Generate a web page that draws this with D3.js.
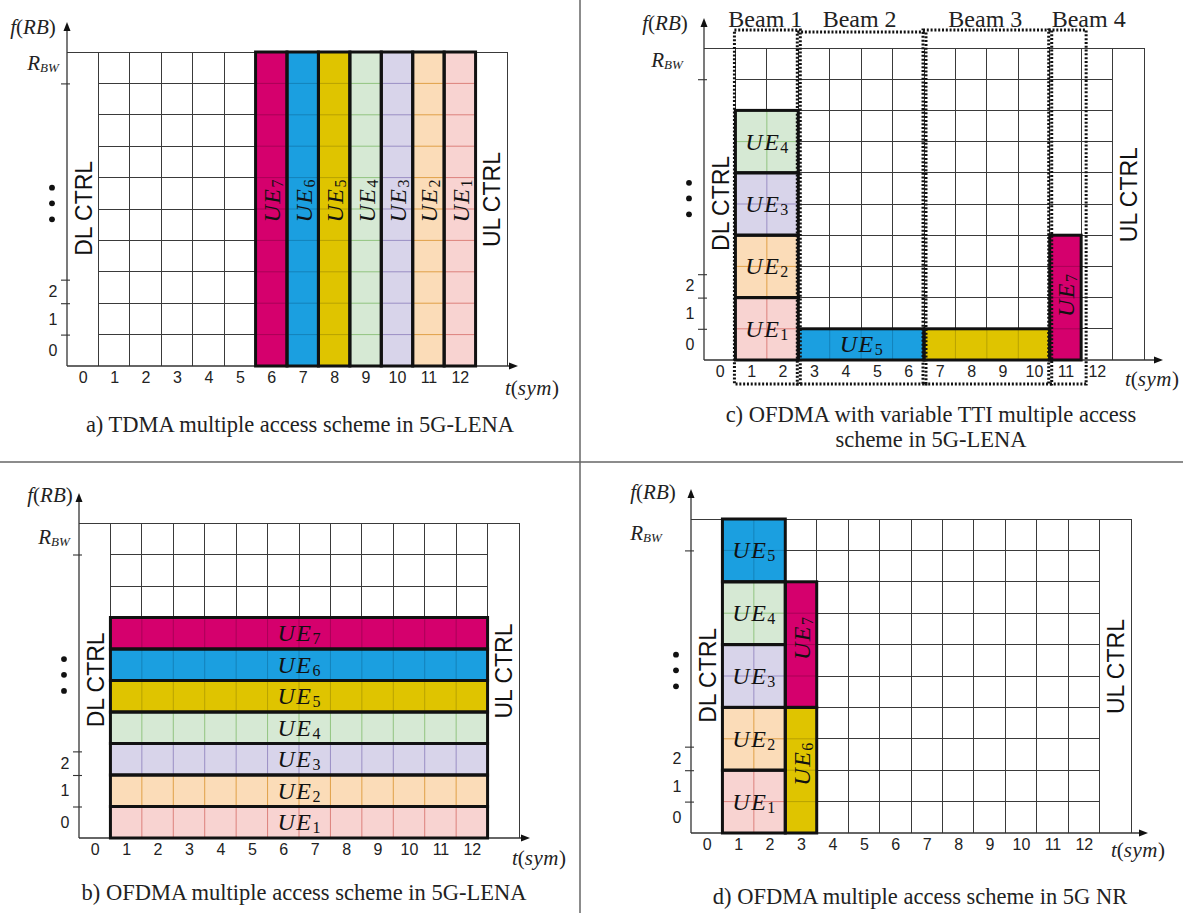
<!DOCTYPE html>
<html><head><meta charset="utf-8">
<script src="https://cdn.jsdelivr.net/npm/d3@7"></script>
<style>body{margin:0;background:#fff}svg{display:block}</style>
</head><body>
<svg id="chart" width="1183" height="913"></svg>
<script>
// ---------------- data ----------------
const symbolLabels = ["0","1","2","3","4","5","6","7","8","9","10","11","12"];
const rbLabels = ["0","1","2"];
const rbLabelPos = [0.5, 1.5, 2.38];
const rbTickPos = [1, 2, 2.75, 9];
const dotPos = [4.67, 5.18, 5.68];
const nSym = 14, nRB = 10;

// a) TDMA
const tdmaUE      = [7, 6, 5, 4, 3, 2, 1];
const tdmaSym0    = [6, 7, 8, 9, 10, 11, 12];
const tdmaSym1    = [7, 8, 9, 10, 11, 12, 13];
const tdmaRB0     = [0, 0, 0, 0, 0, 0, 0];
const tdmaRB1     = [10, 10, 10, 10, 10, 10, 10];
const tdmaColor   = ["magenta","blue","yellow","green","lavender","peach","pink"];

// b) OFDMA
const ofdmaUE     = [1, 2, 3, 4, 5, 6, 7];
const ofdmaSym0   = [1, 1, 1, 1, 1, 1, 1];
const ofdmaSym1   = [13, 13, 13, 13, 13, 13, 13];
const ofdmaRB0    = [0, 1, 2, 3, 4, 5, 6];
const ofdmaRB1    = [1, 2, 3, 4, 5, 6, 7];
const ofdmaColor  = ["pink","peach","lavender","green","yellow","blue","magenta"];

// c) OFDMA variable TTI
const vttiUE      = [1, 2, 3, 4, 5, null, 7];
const vttiSym0    = [1, 1, 1, 1, 3, 7, 11];
const vttiSym1    = [3, 3, 3, 3, 7, 11, 12];
const vttiRB0     = [0, 2, 4, 6, 0, 0, 0];
const vttiRB1     = [2, 4, 6, 8, 1, 1, 4];
const vttiColor   = ["pink","peach","lavender","green","blue","yellow","magenta"];
const beamNames   = ["Beam 1","Beam 2","Beam 3","Beam 4"];
const beamSym0    = [1, 3, 7, 11];
const beamSym1    = [3, 7, 11, 12];

// d) 5G NR
const nrUE        = [1, 2, 3, 4, 5, 6, 7];
const nrSym0      = [1, 1, 1, 1, 1, 3, 3];
const nrSym1      = [3, 3, 3, 3, 3, 4, 4];
const nrRB0       = [0, 2, 4, 6, 8, 0, 4];
const nrRB1       = [2, 4, 6, 8, 10, 4, 8];
const nrColor     = ["pink","peach","lavender","green","blue","yellow","magenta"];

const captionA = ["a) TDMA multiple access scheme in 5G-LENA"];
const captionB = ["b) OFDMA multiple access scheme in 5G-LENA"];
const captionC = ["c) OFDMA with variable TTI multiple access", "scheme in 5G-LENA"];
const captionD = ["d) OFDMA multiple access scheme in 5G NR"];

// ---------------- styles ----------------
const palette = {
  pink:     {fill:"#f8d3d1", line:"#dc817c"},
  peach:    {fill:"#fbdcb8", line:"#e0a048"},
  lavender: {fill:"#d8d4ea", line:"#9a8ec4"},
  green:    {fill:"#d6e9d4", line:"#92c480"},
  yellow:   {fill:"#dfc400", line:"#b8a200"},
  blue:     {fill:"#1b9fe0", line:"#1482ba"},
  magenta:  {fill:"#d5006d", line:"#a90057"}
};
const SERIF = "'Liberation Serif','Times New Roman',serif";
const SANS  = "'Liberation Sans',Arial,sans-serif";

const svg = d3.select("#chart");

// dividers
svg.append("line").attr("x1",0).attr("x2",1183).attr("y1",462).attr("y2",462)
  .attr("stroke","#666").attr("stroke-width",1.5);
svg.append("line").attr("x1",580).attr("x2",580).attr("y1",0).attr("y2",913)
  .attr("stroke","#666").attr("stroke-width",1.5);

function blocksFrom(ue, s0, s1, r0, r1, col){
  return ue.map((u,i)=>({ue:u, s0:s0[i], s1:s1[i], r0:r0[i], r1:r1[i], color:col[i]}));
}

function drawPanel(L, blocks, caption){
  const g = svg.append("g");
  const x = d3.scaleLinear().domain([0, nSym]).range([L.ox, L.ox + 440]);
  const y = d3.scaleLinear().domain([0, nRB]).range([L.oy, L.top]);
  const gridC = "#3a3a3a";

  // grid
  const grid = g.append("g").attr("stroke", gridC).attr("stroke-width", 1).attr("shape-rendering","crispEdges");
  d3.range(1, 14).forEach(c => grid.append("line")
      .attr("x1", x(c)).attr("x2", x(c)).attr("y1", y(0)).attr("y2", y(nRB)));
  d3.range(1, nRB).forEach(r => grid.append("line")
      .attr("x1", x(1)).attr("x2", x(13)).attr("y1", y(r)).attr("y2", y(r)));
  grid.append("line").attr("x1", x(0)).attr("x2", x(nSym)).attr("y1", y(nRB)).attr("y2", y(nRB));
  grid.append("line").attr("x1", x(nSym)).attr("x2", x(nSym)).attr("y1", y(0)).attr("y2", y(nRB));

  // axes lines with arrows
  const axC = "#333";
  g.append("line").attr("x1", L.ox).attr("x2", L.ox).attr("y1", L.oy).attr("y2", L.top - 27)
    .attr("stroke", axC).attr("stroke-width", 1.3);
  g.append("path").attr("d", `M${L.ox},${L.top-30} l-3.5,9 l7,0 z`).attr("fill", "#111");
  g.append("line").attr("x1", L.ox).attr("x2", L.arrowX - 3).attr("y1", L.oy).attr("y2", L.oy)
    .attr("stroke", axC).attr("stroke-width", 1.3);
  g.append("path").attr("d", `M${L.arrowX},${L.oy} l-9,-3.5 l0,7 z`).attr("fill", "#111");

  // x tick labels via axis
  const xAx = d3.axisBottom(x).tickValues(symbolLabels.map((d,i)=>i+0.5))
    .tickFormat((d,i)=>symbolLabels[i]).tickSize(0).tickPadding(6);
  const xg = g.append("g").attr("transform", `translate(0,${L.oy})`).call(xAx);
  xg.select(".domain").remove();
  xg.selectAll("text").attr("font-family", SANS).attr("font-size", 16).attr("fill", "#222");

  // y tick marks via axis
  const yTick = d3.axisLeft(y).tickValues(rbTickPos).tickFormat("").tickSizeInner(9).tickSizeOuter(0);
  const yg = g.append("g").attr("transform", `translate(${L.ox+3},0)`).call(yTick);
  yg.select(".domain").remove();
  yg.selectAll("line").attr("stroke", "#333").attr("stroke-width", 1.1);

  // y labels via axis
  const yLab = d3.axisLeft(y).tickValues(rbLabelPos).tickFormat((d,i)=>rbLabels[i]).tickSize(0).tickPadding(0);
  const yl = g.append("g").attr("transform", `translate(${L.ox-14},0)`).call(yLab);
  yl.select(".domain").remove();
  yl.selectAll("text").attr("text-anchor","middle").attr("font-family", SANS).attr("font-size", 16).attr("fill", "#222");

  // dots
  g.selectAll("circle.dot").data(dotPos).join("circle")
    .attr("cx", L.ox - 15).attr("cy", d => y(d)).attr("r", 2.9).attr("fill", "#111");

  // R_BW
  const rbw = g.append("text").attr("x", L.rbw[0]).attr("y", L.rbw[1])
    .attr("text-anchor","middle").attr("dominant-baseline","central")
    .attr("font-family", SERIF).attr("font-style","italic").attr("fill","#222");
  rbw.append("tspan").attr("font-size", 21).text("R");
  rbw.append("tspan").attr("font-size", 13).attr("dy", 4).text("BW");

  // f(RB)
  const fr = g.append("text").attr("x", L.fRB[0]).attr("y", L.fRB[1])
    .attr("text-anchor","middle").attr("dominant-baseline","central")
    .attr("font-family", SERIF).attr("font-size", 21).attr("fill","#222");
  fr.append("tspan").attr("font-style","italic").text("f");
  fr.append("tspan").text("(");
  fr.append("tspan").attr("font-style","italic").text("RB");
  fr.append("tspan").text(")");

  // t(sym)
  const ts = g.append("text").attr("x", L.tsym[0]).attr("y", L.tsym[1])
    .attr("text-anchor","middle").attr("dominant-baseline","central")
    .attr("font-family", SERIF).attr("font-size", 21).attr("fill","#222");
  ts.append("tspan").attr("font-style","italic").text("t");
  ts.append("tspan").text("(");
  ts.append("tspan").attr("font-style","italic").attr("letter-spacing", 0.5).text("sym");
  ts.append("tspan").text(")");

  // DL / UL CTRL
  [["DL CTRL", 0.5, 5.02], ["UL CTRL", 13.5, 5.3]].forEach(([t, c, r]) => {
    g.append("text").attr("transform", `translate(${x(c)+1},${y(r)}) rotate(-90)`)
      .attr("text-anchor","middle").attr("dominant-baseline","central")
      .attr("font-family", SANS).attr("font-size", 23).attr("fill","#111").text(t);
  });

  // blocks
  blocks.forEach(b => {
    const p = palette[b.color];
    const bx = x(b.s0), bw = x(b.s1) - x(b.s0), by = y(b.r1), bh = y(b.r0) - y(b.r1);
    g.append("rect").attr("x", bx).attr("y", by).attr("width", bw).attr("height", bh).attr("fill", p.fill);
    for (let c = b.s0 + 1; c < b.s1; c++)
      g.append("line").attr("x1", x(c)).attr("x2", x(c)).attr("y1", by).attr("y2", by + bh)
        .attr("stroke", p.line).attr("stroke-width", 1);
    for (let r = b.r0 + 1; r < b.r1; r++)
      g.append("line").attr("x1", bx).attr("x2", bx + bw).attr("y1", y(r)).attr("y2", y(r))
        .attr("stroke", p.line).attr("stroke-width", 1);
  });
  blocks.forEach(b => {
    g.append("rect").attr("x", x(b.s0)).attr("y", y(b.r1))
      .attr("width", x(b.s1) - x(b.s0)).attr("height", y(b.r0) - y(b.r1))
      .attr("fill", "none").attr("stroke", "#111").attr("stroke-width", 3);
  });
  blocks.forEach(b => {
    if (b.ue == null) return;
    const cx = x((b.s0 + b.s1) / 2), cy = y((b.r0 + b.r1) / 2);
    const rot = (b.s1 - b.s0 === 1 && b.r1 - b.r0 > 1);
    const t = g.append("text")
      .attr("transform", rot ? `translate(${cx+1},${cy - L.rotShift}) rotate(-90)` : `translate(${cx},${cy})`)
      .attr("text-anchor","middle").attr("dominant-baseline","central")
      .attr("font-family", SERIF).attr("fill","#111");
    t.append("tspan").attr("font-style","italic").attr("font-size", 24).attr("letter-spacing", 1.5).text("UE");
    t.append("tspan").attr("font-size", 16).attr("dy", 5).text(String(b.ue));
  });

  // caption
  caption.forEach((line, i) => {
    g.append("text").attr("x", L.cap[0]).attr("y", L.cap[1] + i * 25)
      .attr("text-anchor","middle").attr("font-family", SERIF).attr("font-size", 22.5)
      .attr("fill","#222").text(line);
  });
  return {g, x, y};
}

// ---------------- layout ----------------
const layA = {ox:67,  oy:366, top:52,  arrowX:518,  fRB:[33,27],   rbw:[43,63],   tsym:[532,388],  cap:[300,432],  rotShift:8};
const layB = {ox:79,  oy:838, top:523, arrowX:530,  fRB:[50,495],  rbw:[54,537],  tsym:[539,858],  cap:[304,900],  rotShift:0};
const layC = {ox:704, oy:360, top:48,  arrowX:1163, fRB:[665,23],  rbw:[667,60],  tsym:[1152,379], cap:[931,422],  rotShift:2};
const layD = {ox:691, oy:833, top:519, arrowX:1148, fRB:[653,492], rbw:[646,533], tsym:[1138,850], cap:[920,904],  rotShift:6};

drawPanel(layA, blocksFrom(tdmaUE, tdmaSym0, tdmaSym1, tdmaRB0, tdmaRB1, tdmaColor), captionA);
drawPanel(layB, blocksFrom(ofdmaUE, ofdmaSym0, ofdmaSym1, ofdmaRB0, ofdmaRB1, ofdmaColor), captionB);
const pc = drawPanel(layC, blocksFrom(vttiUE, vttiSym0, vttiSym1, vttiRB0, vttiRB1, vttiColor), captionC);
drawPanel(layD, blocksFrom(nrUE, nrSym0, nrSym1, nrRB0, nrRB1, nrColor), captionD);

// beams (panel c)
const beamTop = [30, 32, 30, 30];
const beamAnchor = ["middle","middle","middle","start"];
beamNames.forEach((name, i) => {
  const x0 = pc.x(beamSym0[i]) - 1, x1 = pc.x(beamSym1[i]) + (i === 3 ? 5 : 2);
  pc.g.append("rect").attr("x", x0).attr("y", beamTop[i]).attr("width", x1 - x0)
    .attr("height", 384 - beamTop[i]).attr("fill","none")
    .attr("stroke","#111").attr("stroke-width", 3).attr("stroke-dasharray","2,1.8");
  pc.g.append("text").attr("x", beamAnchor[i] === "start" ? x0 + 3 : (x0 + x1) / 2 - 2).attr("y", 27)
    .attr("text-anchor", beamAnchor[i]).attr("font-family", SERIF).attr("font-size", 24)
    .attr("fill","#222").text(name);
});
</script>
</body></html>
